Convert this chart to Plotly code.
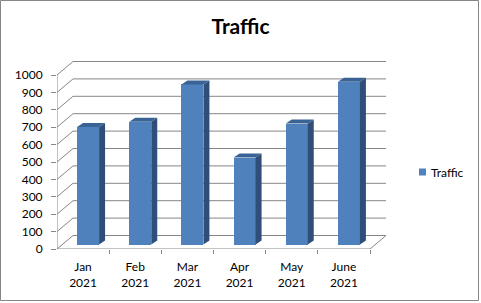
import plotly.graph_objects as go

# ---- data ----
categories = ["Jan<br>2021", "Feb<br>2021", "Mar<br>2021", "Apr<br>2021", "May<br>2021", "June<br>2021"]
traffic = [675, 705, 920, 500, 695, 935]
series_name = "Traffic"
y_ticks = list(range(0, 1001, 100))

# ---- geometry (pixels) ----
W, H = 481, 303
L, R, T, B = 57, 389, 61, 249
front_right = 370
n = len(categories)
pxu = (front_right - L) / n            # px per category unit
pyv = (B - 75) / 1000.0                # px per value unit
xmax = (R - L) / pxu
ymax = (B - T) / pyv
DX, DY = 16 / pxu, 13.5 / pyv          # wall depth
bw = 22 / pxu                          # bar width
bshift = 5 / pxu                       # bar depth shift (x)
bbase = 4.5 / pyv                      # bar depth shift (y)
bdx, bdy = 6 / pxu, 4 / pyv            # bar own depth

GRID = "#868686"
FRONT = "#4F81BD"
SIDE = "#2F4F78"
TOP = "#3A6395"
FONT = "Lato"

fig = go.Figure()

shapes = []
# back wall gridlines and side-wall diagonals
for v in y_ticks:
    shapes.append(dict(type="line", x0=DX, x1=n + DX, y0=v + DY, y1=v + DY,
                       line=dict(color=GRID, width=1), layer="below"))
    shapes.append(dict(type="line", x0=0, x1=DX, y0=v, y1=v + DY,
                       line=dict(color=GRID, width=1), layer="below"))
# floor
shapes.append(dict(type="line", x0=0, x1=n, y0=0, y1=0, line=dict(color=GRID, width=1)))
shapes.append(dict(type="line", x0=n, x1=n + DX, y0=0, y1=DY, line=dict(color=GRID, width=1)))
# y axis line
shapes.append(dict(type="line", x0=0, x1=0, y0=0, y1=1000, line=dict(color=GRID, width=1)))

centers = [i + 0.5 for i in range(n)]
bar_x = [c + bshift for c in centers]

fig.add_trace(go.Bar(x=bar_x, y=traffic, base=bbase, width=bw, name=series_name,
                     marker=dict(color=FRONT, line=dict(width=0)), showlegend=False))

# side & top faces derived from data
for xc, v in zip(bar_x, traffic):
    xl, xr = xc - bw / 2, xc + bw / 2
    top = bbase + v
    fig.add_trace(go.Scatter(x=[xr, xr + bdx, xr + bdx, xr, xr],
                             y=[bbase, bbase + bdy, top + bdy, top, bbase],
                             fill="toself", fillcolor=SIDE, mode="lines",
                             line=dict(width=0, color=SIDE), showlegend=False, hoverinfo="skip"))
    fig.add_trace(go.Scatter(x=[xl, xr, xr + bdx, xl + bdx, xl],
                             y=[top, top, top + bdy, top + bdy, top],
                             fill="toself", fillcolor=TOP, mode="lines",
                             line=dict(width=0, color=TOP), showlegend=False, hoverinfo="skip"))

# legend (drawn)
lx, ly = 419, 172
def px2paper_x(p):
    return (p - L) / (R - L)
def px2paper_y(p):
    return (B - p) / (B - T)
shapes.append(dict(type="rect", xref="paper", yref="paper",
                   x0=px2paper_x(lx), x1=px2paper_x(lx + 7),
                   y0=px2paper_y(ly + 3.5), y1=px2paper_y(ly - 3.5),
                   fillcolor=FRONT, line=dict(width=0)))
# outer border
shapes.append(dict(type="rect", xref="paper", yref="paper",
                   x0=px2paper_x(0.5), x1=px2paper_x(W - 2.5),
                   y0=px2paper_y(H - 2.5), y1=px2paper_y(0.5),
                   line=dict(color=GRID, width=1)))

fig.update_layout(
    width=W, height=H, autosize=False,
    margin=dict(l=L, r=W - R, t=T, b=H - B),
    paper_bgcolor="white", plot_bgcolor="white",
    font=dict(family=FONT, size=12, color="black"),
    title=dict(text="<b>Traffic</b>", x=0.5, xref="container", xanchor="center",
               y=1 - 27 / H, yref="container", yanchor="middle",
               font=dict(family=FONT, size=21, color="black")),
    showlegend=False,
    shapes=shapes,
    annotations=[dict(text=series_name, xref="paper", yref="paper",
                      x=px2paper_x(lx + 10), y=px2paper_y(ly), xanchor="left", yanchor="middle",
                      showarrow=False, font=dict(family=FONT, size=12, color="black"))],
    xaxis=dict(range=[0, xmax], showgrid=False, zeroline=False, showline=False,
               tickmode="array", tickvals=centers, ticktext=categories, ticks="",
               ticklabelstandoff=9, fixedrange=True,
               minor=dict(tickmode="array", tickvals=list(range(1, n + 1)), ticks="outside",
                          ticklen=4, tickcolor=GRID, showgrid=False)),
    yaxis=dict(range=[0, ymax], showgrid=False, zeroline=False, showline=False,
               tickmode="array", tickvals=y_ticks, ticks="outside", ticklen=5,
               tickcolor=GRID, ticklabelstandoff=6, fixedrange=True),
    bargap=0,
)

fig.write_html("out.html")
